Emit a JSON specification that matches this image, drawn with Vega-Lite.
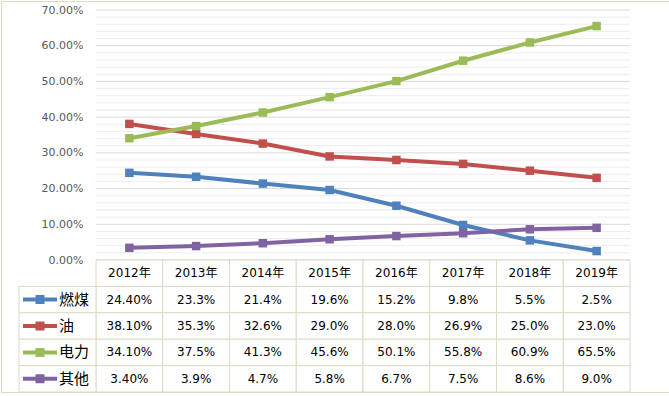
{
  "$schema": "https://vega.github.io/schema/vega-lite/v6.json",
  "width": 668,
  "height": 391,
  "autosize": "none",
  "padding": {"left": 1, "top": 1, "right": 0, "bottom": 4},
  "background": "white",
  "config": {"view": {"stroke": "#DDD9C3", "strokeWidth": 1}},
  "datasets": {
    "shares": [
      {"series": "燃煤", "year": "2012年", "v": 0.244},
      {"series": "燃煤", "year": "2013年", "v": 0.233},
      {"series": "燃煤", "year": "2014年", "v": 0.214},
      {"series": "燃煤", "year": "2015年", "v": 0.196},
      {"series": "燃煤", "year": "2016年", "v": 0.152},
      {"series": "燃煤", "year": "2017年", "v": 0.098},
      {"series": "燃煤", "year": "2018年", "v": 0.055},
      {"series": "燃煤", "year": "2019年", "v": 0.025},
      {"series": "油", "year": "2012年", "v": 0.381},
      {"series": "油", "year": "2013年", "v": 0.353},
      {"series": "油", "year": "2014年", "v": 0.326},
      {"series": "油", "year": "2015年", "v": 0.290},
      {"series": "油", "year": "2016年", "v": 0.280},
      {"series": "油", "year": "2017年", "v": 0.269},
      {"series": "油", "year": "2018年", "v": 0.250},
      {"series": "油", "year": "2019年", "v": 0.230},
      {"series": "电力", "year": "2012年", "v": 0.341},
      {"series": "电力", "year": "2013年", "v": 0.375},
      {"series": "电力", "year": "2014年", "v": 0.413},
      {"series": "电力", "year": "2015年", "v": 0.456},
      {"series": "电力", "year": "2016年", "v": 0.501},
      {"series": "电力", "year": "2017年", "v": 0.558},
      {"series": "电力", "year": "2018年", "v": 0.609},
      {"series": "电力", "year": "2019年", "v": 0.655},
      {"series": "其他", "year": "2012年", "v": 0.034},
      {"series": "其他", "year": "2013年", "v": 0.039},
      {"series": "其他", "year": "2014年", "v": 0.047},
      {"series": "其他", "year": "2015年", "v": 0.058},
      {"series": "其他", "year": "2016年", "v": 0.067},
      {"series": "其他", "year": "2017年", "v": 0.075},
      {"series": "其他", "year": "2018年", "v": 0.086},
      {"series": "其他", "year": "2019年", "v": 0.090}
    ],
    "grid": [
      {"g": 0}, {"g": 0.02}, {"g": 0.04}, {"g": 0.06}, {"g": 0.08},
      {"g": 0.1}, {"g": 0.12}, {"g": 0.14}, {"g": 0.16}, {"g": 0.18},
      {"g": 0.2}, {"g": 0.22}, {"g": 0.24}, {"g": 0.26}, {"g": 0.28},
      {"g": 0.3}, {"g": 0.32}, {"g": 0.34}, {"g": 0.36}, {"g": 0.38},
      {"g": 0.4}, {"g": 0.42}, {"g": 0.44}, {"g": 0.46}, {"g": 0.48},
      {"g": 0.5}, {"g": 0.52}, {"g": 0.54}, {"g": 0.56}, {"g": 0.58},
      {"g": 0.6}, {"g": 0.62}, {"g": 0.64}, {"g": 0.66}, {"g": 0.68},
      {"g": 0.7}
    ]
  },
  "data": {"name": "shares"},
  "resolve": {"scale": {"x": "independent", "y": "independent"}},
  "layer": [
    {
      "data": {"name": "grid"},
      "mark": {"type": "rule", "strokeWidth": 1},
      "encoding": {
        "x": {"datum": 0, "type": "quantitative", "scale": {"domain": [0, 1], "range": [95, 629]}, "axis": null},
        "x2": {"datum": 1},
        "y": {
          "field": "g", "type": "quantitative",
          "scale": {"domain": [0, 0.7], "range": [259, 9], "nice": false, "zero": false},
          "axis": {
            "orient": "left", "offset": -95, "values": [0, 0.1, 0.2, 0.3, 0.4, 0.5, 0.6, 0.7],
            "format": ".2%", "domain": false, "ticks": false, "tickSize": 0, "grid": false,
            "labelPadding": 13, "labelFont": "DejaVu Sans", "labelFontSize": 11, "labelColor": "#595959",
            "title": null
          }
        },
        "color": {"condition": {"test": "abs(datum.g*10 - round(datum.g*10)) < 0.001", "value": "#D9D9D9"}, "value": "#EDEDED"}
      }
    },
    {
      "mark": {"type": "line", "strokeWidth": 4, "point": {"shape": "square", "size": 72, "filled": true, "opacity": 1}},
      "encoding": {
        "x": {"field": "year", "type": "ordinal", "scale": {"type": "point", "domain": ["2012年", "2013年", "2014年", "2015年", "2016年", "2017年", "2018年", "2019年"], "range": [95, 629], "padding": 0.5}, "axis": null},
        "y": {"field": "v", "type": "quantitative", "scale": {"domain": [0, 0.7], "range": [259, 9], "nice": false, "zero": false}, "axis": null},
        "color": {"field": "series", "type": "nominal", "scale": {"domain": ["燃煤", "油", "电力", "其他"], "range": ["#4F81BD", "#C0504D", "#9BBB59", "#8064A2"]}, "legend": null}
      }
    },
    {
      "mark": {"type": "rect", "fill": "white", "stroke": "#DDD9C3", "strokeWidth": 1},
      "encoding": {
        "x": {"field": "year", "type": "ordinal", "scale": {"type": "band", "domain": ["2012年", "2013年", "2014年", "2015年", "2016年", "2017年", "2018年", "2019年"], "range": [95, 629], "paddingInner": 0, "paddingOuter": 0}, "axis": null},
        "y": {"field": "series", "type": "nominal", "scale": {"type": "band", "domain": ["header", "燃煤", "油", "电力", "其他"], "range": [259, 391], "paddingInner": 0, "paddingOuter": 0}, "axis": null}
      }
    },
    {
      "transform": [{"filter": "datum.series === '燃煤'"}],
      "mark": {"type": "rect", "fill": "white", "stroke": "#DDD9C3", "strokeWidth": 1},
      "encoding": {
        "x": {"field": "year", "type": "ordinal", "scale": {"type": "band", "domain": ["2012年", "2013年", "2014年", "2015年", "2016年", "2017年", "2018年", "2019年"], "range": [95, 629], "paddingInner": 0, "paddingOuter": 0}, "axis": null},
        "y": {"datum": "header", "type": "nominal", "scale": {"type": "band", "domain": ["header", "燃煤", "油", "电力", "其他"], "range": [259, 391], "paddingInner": 0, "paddingOuter": 0}, "axis": null}
      }
    },
    {
      "transform": [{"filter": "datum.year === '2012年'"}],
      "mark": {"type": "rect", "fill": "white", "stroke": "#DDD9C3", "strokeWidth": 1},
      "encoding": {
        "x": {"datum": "label", "type": "nominal", "scale": {"type": "band", "domain": ["label"], "range": [18, 95], "paddingInner": 0, "paddingOuter": 0}, "axis": null},
        "y": {"field": "series", "type": "nominal", "scale": {"type": "band", "domain": ["header", "燃煤", "油", "电力", "其他"], "range": [259, 391], "paddingInner": 0, "paddingOuter": 0}, "axis": null}
      }
    },
    {
      "transform": [{"calculate": "datum.year === '2012年' ? format(datum.v, '.2%') : format(datum.v, '.1%')", "as": "t"}],
      "mark": {"type": "text", "font": "DejaVu Sans", "fontSize": 12, "color": "#000000", "align": "center", "baseline": "middle"},
      "encoding": {
        "x": {"field": "year", "type": "ordinal", "scale": {"type": "point", "domain": ["2012年", "2013年", "2014年", "2015年", "2016年", "2017年", "2018年", "2019年"], "range": [95, 629], "padding": 0.5}, "axis": null},
        "y": {"field": "series", "type": "nominal", "scale": {"type": "point", "domain": ["header", "燃煤", "油", "电力", "其他"], "range": [259, 391], "padding": 0.5}, "axis": null},
        "text": {"field": "t"}
      }
    },
    {
      "transform": [{"filter": "datum.series === '燃煤'"}],
      "mark": {"type": "text", "font": "DejaVu Sans, Noto Sans CJK SC", "fontSize": 12, "color": "#000000", "align": "center", "baseline": "middle"},
      "encoding": {
        "x": {"field": "year", "type": "ordinal", "scale": {"type": "point", "domain": ["2012年", "2013年", "2014年", "2015年", "2016年", "2017年", "2018年", "2019年"], "range": [95, 629], "padding": 0.5}, "axis": null},
        "y": {"datum": "header", "type": "nominal", "scale": {"type": "point", "domain": ["header", "燃煤", "油", "电力", "其他"], "range": [259, 391], "padding": 0.5}, "axis": null},
        "text": {"field": "year"}
      }
    },
    {
      "transform": [{"filter": "datum.year === '2012年'"}],
      "mark": {"type": "text", "font": "Noto Sans CJK SC", "fontSize": 15, "color": "#000000", "align": "left", "baseline": "middle"},
      "encoding": {
        "x": {"datum": 0, "type": "quantitative", "scale": {"domain": [0, 1], "range": [58, 95]}, "axis": null},
        "y": {"field": "series", "type": "nominal", "scale": {"type": "point", "domain": ["header", "燃煤", "油", "电力", "其他"], "range": [259, 391], "padding": 0.5}, "axis": null},
        "text": {"field": "series"}
      }
    },
    {
      "transform": [{"filter": "datum.year === '2012年'"}],
      "mark": {"type": "point", "shape": "M-3.78,-0.44H3.78V0.44H-3.78ZM-1,-1H1V1H-1Z", "size": 81, "filled": true, "opacity": 1},
      "encoding": {
        "x": {"datum": 0, "type": "quantitative", "scale": {"domain": [0, 1], "range": [39, 95]}, "axis": null},
        "y": {"field": "series", "type": "nominal", "scale": {"type": "point", "domain": ["header", "燃煤", "油", "电力", "其他"], "range": [259, 391], "padding": 0.5}, "axis": null},
        "color": {"field": "series", "type": "nominal", "scale": {"domain": ["燃煤", "油", "电力", "其他"], "range": ["#4F81BD", "#C0504D", "#9BBB59", "#8064A2"]}, "legend": null}
      }
    }
  ]
}
